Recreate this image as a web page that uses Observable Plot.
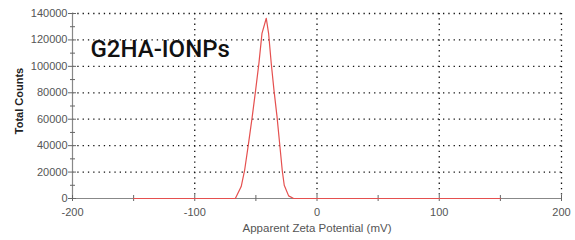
<!DOCTYPE html>
<html>
<head>
<meta charset="utf-8">
<script src="https://cdn.jsdelivr.net/npm/d3@7"></script>
<script src="https://cdn.jsdelivr.net/npm/@observablehq/plot@0.6"></script>
<style>
  html, body { margin: 0; padding: 0; background: #fff; }
  #chart { width: 575px; height: 240px; }
</style>
</head>
<body>
<div id="chart"></div>
<script>
// Data
const zeta = [-150, -66.8, -62, -59.2, -56, -53, -50.2, -47.5, -45, -41.5, -39.6, -37.4, -35.2, -32.7, -30.6, -28.4, -26.8, -23.2, -19.1, 150];
const counts = [0, 0, 9000, 21400, 41700, 61800, 82000, 102400, 125000, 136400, 125000, 102000, 82000, 62000, 42000, 21000, 10000, 2000, 0, 0];

const xTicks = [-200, -100, 0, 100, 200];
const xMinorTicks = [-200, -150, -100, -50, 0, 50, 100, 150, 200];
const yTicks = [0, 20000, 40000, 60000, 80000, 100000, 120000, 140000];
const yMinorTicks = [10000, 30000, 50000, 70000, 90000, 110000, 130000];

const title = "G2HA-IONPs";
const xLabel = "Apparent Zeta Potential (mV)";
const yLabel = "Total Counts";

const data = zeta.map((z, i) => ({z, c: counts[i]}));
const FONT = "'Liberation Sans', Arial, sans-serif";

const chart = Plot.plot({
  width: 575,
  height: 240,
  marginLeft: 72,
  marginRight: 14,
  marginTop: 13,
  marginBottom: 42,
  style: {fontFamily: FONT, fontSize: "11px", background: "#fff"},
  x: {domain: [-200, 200]},
  y: {domain: [0, 140000]},
  marks: [
    // dotted grid
    Plot.ruleX(xTicks.filter(d => d !== -200), {x: d => d, stroke: "#111", strokeWidth: 1.3, strokeDasharray: "1.3,4"}),
    Plot.ruleY(yTicks.filter(d => d !== 0), {y: d => d, stroke: "#111", strokeWidth: 1.3, strokeDasharray: "1.3,4"}),
    // axis lines
    Plot.ruleY([0], {stroke: "#888", strokeWidth: 1.2}),
    Plot.ruleX([-200], {stroke: "#888", strokeWidth: 1.2}),
    // x ticks crossing the axis
    Plot.ruleX(xMinorTicks, {x: d => d, y1: 0, y2: 0, insetTop: -3, insetBottom: -3, stroke: "#666"}),
    // y ticks crossing the axis
    Plot.ruleY(yTicks, {y: d => d, x1: -200, x2: -200, insetLeft: -4, insetRight: -4, stroke: "#666"}),
    Plot.ruleY(yMinorTicks, {y: d => d, x1: -200, x2: -200, insetLeft: -2, insetRight: -3, stroke: "#666"}),
    // tick labels
    Plot.axisX(xTicks, {tickSize: 0, tickPadding: 10, fill: "#555", label: null, fontSize: 11, fontFamily: FONT, tickFormat: d => String(d)}),
    Plot.axisY(yTicks, {tickSize: 0, tickPadding: 5, fill: "#555", label: null, fontSize: 11, fontFamily: FONT, tickFormat: d => String(d)}),
    // data line
    Plot.line(data, {x: "z", y: "c", stroke: "#e5504f", strokeWidth: 1.2}),
    // title
    Plot.text([title], {frameAnchor: "top-left", text: d => d, dx: 18, dy: 36, lineAnchor: "middle", textAnchor: "start",
      fontFamily: "Roboto, 'DejaVu Sans', sans-serif", fontSize: 24, fontWeight: 500, fill: "#111", style: "letter-spacing:0.5px"}),
    // axis labels
    Plot.text([xLabel], {frameAnchor: "bottom", text: d => d, dy: 30, lineAnchor: "middle", fill: "#555", fontSize: 11.5, fontFamily: FONT}),
    Plot.text([yLabel], {frameAnchor: "left", text: d => d, dx: -53, dy: -5, rotate: -90, lineAnchor: "middle", textAnchor: "middle",
      fontWeight: "bold", fill: "#222", fontSize: 11, fontFamily: "'Liberation Sans Narrow', 'Liberation Sans', Arial, sans-serif"})
  ]
});
document.getElementById("chart").appendChild(chart);
</script>
</body>
</html>
